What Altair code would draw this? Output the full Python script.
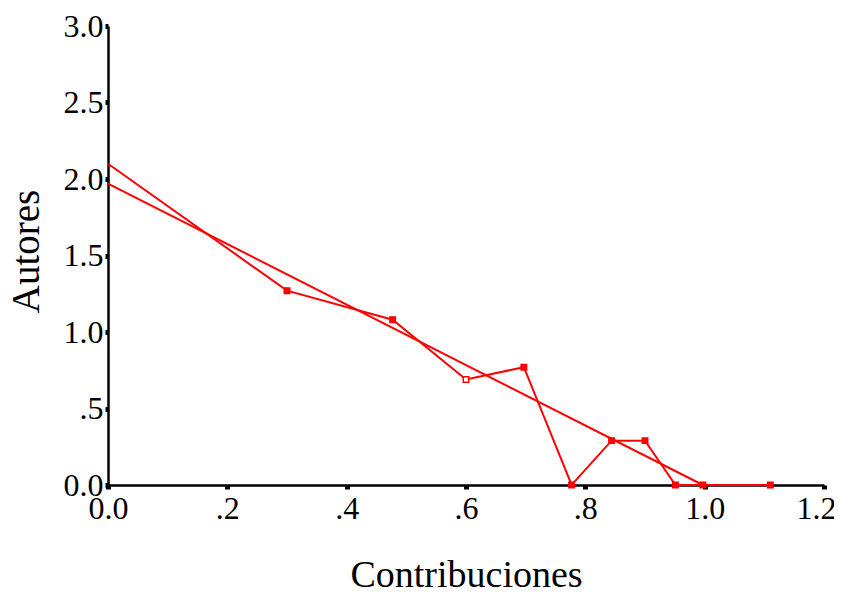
import altair as alt
import pandas as pd

# observed data (Contribuciones vs Autores)
obs_x = [0.0, 0.30, 0.477, 0.60, 0.697, 0.777, 0.844, 0.90, 0.951, 0.997, 1.11]
obs_y = [2.10, 1.27, 1.08, 0.69, 0.77, 0.0, 0.29, 0.29, 0.0, 0.0, 0.0]
hollow_x = [0.60]

# fitted line
fit_x = [0.0, 0.997]
fit_y = [1.97, 0.0]

x_ticks = [0.0, 0.2, 0.4, 0.6, 0.8, 1.0, 1.2]
y_ticks = [0.0, 0.5, 1.0, 1.5, 2.0, 2.5, 3.0]

obs = pd.DataFrame({"x": obs_x, "y": obs_y, "order": list(range(len(obs_x)))})
fit = pd.DataFrame({"x": fit_x, "y": fit_y})

RED = "#ff0000"
FONT = "Liberation Serif"

label_expr = ("datum.value == 0 ? '0.0' : (datum.value < 1 ? "
              "substring(format(datum.value, '.1f'), 1) : format(datum.value, '.1f'))")

xscale = alt.Scale(domain=[0, 1.2], nice=False, zero=False)
yscale = alt.Scale(domain=[0, 3.0], nice=False, zero=False)

xaxis = alt.Axis(values=x_ticks, labelExpr=label_expr, title="Contribuciones",
                 grid=False, domainColor="black", domainWidth=2.5,
                 tickColor="black", tickSize=4, tickWidth=5,
                 labelFont=FONT, labelFontSize=32, labelColor="black",
                 labelPadding=4, labelFlush=False,
                 labelOffset=alt.condition("datum.value >= 1.2", alt.value(-8), alt.value(0)),
                 titleFont=FONT, titleFontSize=38, titleFontWeight="normal",
                 titleColor="black", titleBaseline="alphabetic", titleY=101)
yaxis = alt.Axis(values=y_ticks, labelExpr=label_expr, title="Autores",
                 grid=False, domainColor="black", domainWidth=2.5,
                 tickColor="black", tickSize=3, tickWidth=5,
                 labelFont=FONT, labelFontSize=32, labelColor="black",
                 labelPadding=2, labelFlush=False,
                 titleFont=FONT, titleFontSize=39, titleFontWeight="normal",
                 titleColor="black", titleBaseline="alphabetic", titleX=-70, titleY=225)

line_obs = alt.Chart(obs).mark_line(color=RED, strokeWidth=2).encode(
    x=alt.X("x:Q", scale=xscale, axis=xaxis),
    y=alt.Y("y:Q", scale=yscale, axis=yaxis),
    order="order:Q",
)

pts = alt.Chart(obs).transform_filter("datum.x > 0").mark_point(
    shape="square", size=30, stroke=RED, strokeWidth=1.5, opacity=1
).encode(
    x="x:Q",
    y="y:Q",
    fill=alt.condition(f"indexof({hollow_x}, datum.x) >= 0", alt.value("white"), alt.value(RED)),
)

line_fit = alt.Chart(fit).mark_line(color=RED, strokeWidth=2).encode(
    x="x:Q",
    y="y:Q",
)

chart = alt.layer(line_fit, line_obs, pts).properties(
    width=716, height=459,
    autosize=alt.AutoSizeParams(type="none"),
    padding={"left": 100, "top": 18, "right": 10, "bottom": 103},
    background="white",
).configure_view(stroke=None)

chart.save("out.html", embed_options={"renderer": "svg", "actions": False})
